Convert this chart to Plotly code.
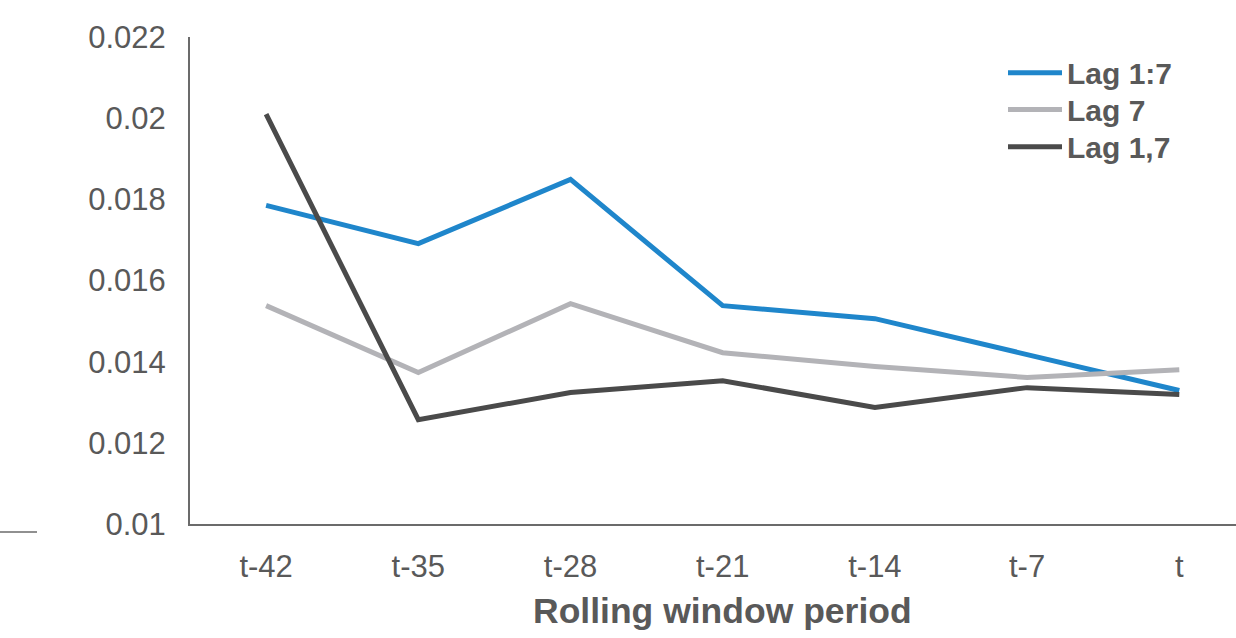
import plotly.graph_objects as go

periods = ["t-42", "t-35", "t-28", "t-21", "t-14", "t-7", "t"]
lag_1to7 = [0.01785, 0.01691, 0.01849, 0.01538, 0.01506, 0.01417, 0.01329]
lag_7 = [0.01538, 0.01373, 0.01543, 0.01422, 0.01388, 0.01361, 0.01380]
lag_1and7 = [0.02010, 0.01257, 0.01324, 0.01353, 0.01287, 0.01336, 0.01319]
series_names = ["Lag 1:7", "Lag 7", "Lag 1,7"]
y_ticks = [0.01, 0.012, 0.014, 0.016, 0.018, 0.02, 0.022]
y_tick_text = ["0.01", "0.012", "0.014", "0.016", "0.018", "0.02", "0.022"]
x_title = "Rolling window period"

colors = ["#1f86cb", "#b3b3b7", "#4a4a4a"]
text_color = "#595959"
font_family = "Liberation Sans, Arial, sans-serif"

fig = go.Figure()
for name, vals, col in zip(series_names, [lag_1to7, lag_7, lag_1and7], colors):
    fig.add_trace(go.Scatter(x=list(range(len(periods))), y=vals, mode="lines", name=name,
                             line=dict(color=col, width=5), showlegend=False))

# layout geometry (pixels)
L, R, T, B = 190, 1236, 37, 524
W, H = R - L, B - T
def px(x):
    return (x - L) / W
def py(y):
    return (B - y) / H

# manual legend
legend_rows = [72.7, 109.5, 146.7]
for name, col, yy in zip(series_names, colors, legend_rows):
    fig.add_shape(type="line", xref="paper", yref="paper", x0=px(1008), x1=px(1062),
                  y0=py(yy), y1=py(yy), line=dict(color=col, width=5))
    fig.add_annotation(xref="paper", yref="paper", x=px(1065), y=py(yy + 1), text=f"<b>{name}</b>",
                       showarrow=False, xanchor="left", yanchor="middle",
                       font=dict(size=30, color=text_color, family=font_family))

# x-axis title (centered on the full category span, which extends past the window)
fig.add_annotation(xref="paper", yref="paper", x=px(722.5), y=py(611), text=f"<b>{x_title}</b>",
                   showarrow=False, xanchor="center", yanchor="middle",
                   font=dict(size=35.5, color=text_color, family=font_family))

# stray short line at bottom-left
fig.add_shape(type="line", xref="paper", yref="paper", x0=px(0), x1=px(37), y0=py(532), y1=py(532),
              line=dict(color="#6b6b6b", width=1.5))

fig.update_layout(
    width=1236, height=638,
    margin=dict(l=L, r=0, t=T, b=638 - B),
    paper_bgcolor="white", plot_bgcolor="white",
    font=dict(family=font_family, color=text_color, size=30),
    xaxis=dict(range=[-0.5, -0.5 + W / 152.2], tickvals=list(range(len(periods))), ticktext=periods,
               showgrid=False, zeroline=False, showline=True, linecolor="#6b6b6b", linewidth=2,
               ticks="", ticklabelstandoff=14, tickfont=dict(size=31, color=text_color)),
    yaxis=dict(range=[0.01, 0.022], tickvals=y_ticks, ticktext=y_tick_text,
               showgrid=False, zeroline=False, showline=True, linecolor="#6b6b6b", linewidth=2,
               ticks="", ticklabelstandoff=16, tickfont=dict(size=31, color=text_color)),
)

fig.write_html("out.html")
